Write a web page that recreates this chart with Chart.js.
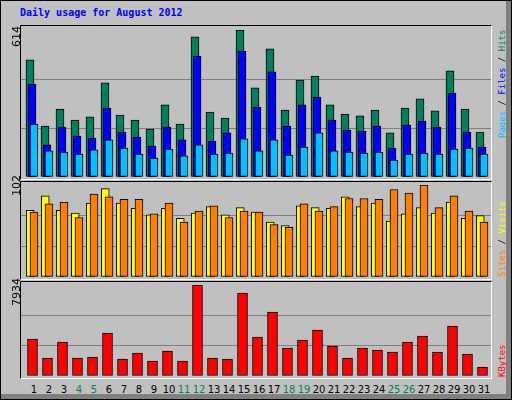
<!DOCTYPE html>
<html><head><meta charset="utf-8">
<script src="https://cdn.jsdelivr.net/npm/chart.js@4"></script>
<style>
html,body{margin:0;padding:0;}
#root{position:relative;width:512px;height:400px;background:#C0C0C0;overflow:hidden;box-sizing:border-box;border:1px solid #000;}
#shR{position:absolute;right:0;top:0;width:5px;height:400px;background:#808080;}
#shB{position:absolute;left:0;bottom:0;width:512px;height:5px;background:#808080;}
.frame{position:absolute;box-sizing:border-box;border-left:1px solid #000;border-top:1px solid #000;border-right:1px solid #fff;border-bottom:1px solid #fff;}
canvas{position:absolute;}
.t{position:absolute;white-space:nowrap;}
.rot{position:absolute;white-space:nowrap;transform-origin:0 0;transform:rotate(-90deg);line-height:1;}
.day{position:absolute;width:20px;text-align:center;font:10px "DejaVu Sans",sans-serif;top:383px;}
</style></head><body>
<div id="root">
<div id="shR"></div><div id="shB"></div>
<div class="t" style="left:19px;top:6px;font:bold 10px 'DejaVu Sans Mono',monospace;color:#0000FF;">Daily usage for August 2012</div>
<div class="frame" style="left:19px;top:24px;width:472px;height:155px;"></div>
<div class="frame" style="left:19px;top:180px;width:472px;height:99px;"></div>
<div class="frame" style="left:19px;top:280px;width:472px;height:98px;"></div>
<canvas id="c1"></canvas><canvas id="c2"></canvas><canvas id="c3"></canvas>
<div id="labels"></div>
</div>
<script>
const days = Array.from({length:31},(_,i)=>String(i+1));
const weekendDays = [4,5,11,12,18,19,25,26];
const hits  = [489,213,284,238,251,393,259,238,200,301,221,585,271,246,614,372,535,280,405,422,301,263,255,280,184,288,326,276,443,284,188];
const files = [388,134,209,171,163,288,188,167,129,209,155,505,150,184,526,292,439,213,301,334,238,196,192,213,121,217,234,209,351,188,125];
const pages = [221,109,104,96,113,155,121,96,79,117,88,134,96,100,159,109,155,92,125,184,109,104,100,104,71,96,100,96,117,121,96];
const visits= [74,90,74,71,82,98,82,76,69,76,65,71,78,69,77,72,61,57,79,77,76,89,78,82,62,70,77,71,83,65,68];
const sites = [72,81,83,66,92,89,86,86,70,82,61,73,79,66,73,72,58,55,81,73,78,87,87,86,97,93,102,77,90,73,61];
const kbytes= [3226,1569,2964,1569,1656,3749,1482,2005,1308,2180,1308,7934,1569,1482,7236,3400,5580,2441,3138,4010,2615,1569,2441,2267,2092,2964,3487,2092,4359,1918,785];
const maxTop=614, maxMid=102, maxBot=7934;

const PAD=2, L=20, W=470;
function place(id, top, h){
  const c=document.getElementById(id);
  c.style.left=(L-PAD)+'px'; c.style.top=(top-PAD)+'px';
  c.width=W+2*PAD; c.height=h+2*PAD;
  c.style.width=(W+2*PAD)+'px'; c.style.height=(h+2*PAD)+'px';
  return c;
}
function ds(arr, off, color, order, thick){
  return {data:arr.map((v,i)=>({x:i+1+off,y:v})), backgroundColor:color, borderColor:'#000',
    borderWidth:1, borderSkipped:false, barThickness:thick, grouped:false, order:order};
}
function mk(id, top, h, max, datasets){
  new Chart(place(id,top,h),{type:'bar',data:{datasets},
    options:{responsive:false,animation:false,devicePixelRatio:1,layout:{padding:PAD},
      plugins:{legend:{display:false},tooltip:{enabled:false}},
      scales:{
        x:{type:'linear',display:false,offset:false,min:0.1333,max:31.467},
        y:{min:0,max:max,ticks:{display:false,stepSize:max/3},border:{display:false},
           grid:{drawTicks:false,color:c=>(c.index===1||c.index===2)?'#808080':'rgba(0,0,0,0)',lineWidth:1},
           afterFit:s=>{s.width=0;}}
      }}});
}
mk('c1',29,147,maxTop,[ds(hits,-0.267,'#00805C',3,8),ds(files,-0.133,'#0000FF',2,8),ds(pages,0,'#00C0FF',1,8)]);
mk('c2',184,92,maxMid,[ds(visits,-0.25,'#FFFF00',2,8),ds(sites,0,'#FF8000',1,8)]);
mk('c3',284,91,maxBot,[ds(kbytes,-0.1,'#FF0000',1,10)]);

const lab=document.getElementById('labels');
days.forEach((d,i)=>{
  const e=document.createElement('div'); e.className='day'; e.textContent=d;
  e.style.left=(33+15*i-10)+'px';
  e.style.color=weekendDays.includes(i+1)?'#00805C':'#000';
  lab.appendChild(e);
});
function rot(html,left,bottom,font){
  const e=document.createElement('div'); e.className='rot'; e.innerHTML=html;
  e.style.left=left+'px'; e.style.top=bottom+'px'; e.style.font=font; lab.appendChild(e);
}
const yf="11px 'DejaVu Sans',sans-serif", rf="9px 'DejaVu Sans Mono',monospace";
rot(String(maxTop),9,46,yf); rot(String(maxMid),9,195,yf); rot(String(maxBot),9,305,yf);
rot('<span style="color:#00C0FF">Pages</span> / <span style="color:#0000FF">Files</span> / <span style="color:#00805C">Hits</span>',496,137,rf);
rot('<span style="color:#FF8000">Sites</span> / <span style="color:#FFFF00">Visits</span>',496,276,rf);
rot('<span style="color:#FF0000">KBytes</span>',496,376,rf);
</script>
</body></html>
